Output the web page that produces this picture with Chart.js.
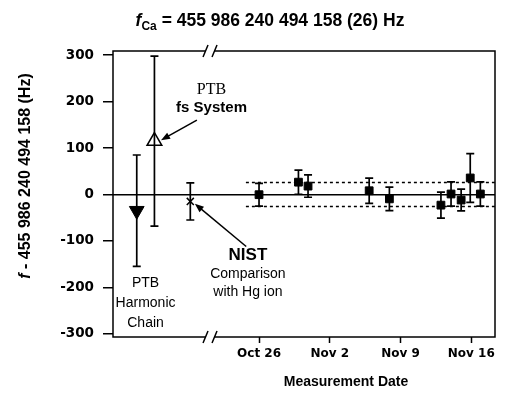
<!DOCTYPE html>
<html>
<head>
<meta charset="utf-8">
<script src="https://cdn.jsdelivr.net/npm/chart.js@4/dist/chart.umd.min.js"></script>
<style>
  html, body { margin: 0; padding: 0; background: #fff; }
</style>
</head>
<body>
<canvas id="myChart" width="505" height="394"></canvas>
<script>
// x ticks: days since Oct 26
const tickDays = [0, 7, 14, 21];
const tickLabels = ["Oct 26", "Nov 2", "Nov 9", "Nov 16"];
const yTicks = [-300, -200, -100, 0, 100, 200, 300];

// NIST comb measurements (Hz offset)
const measDays = [0, 3.9, 4.85, 10.9, 12.9, 18, 19, 20, 20.9, 21.9];
const measVals = [-0.5, 26.5, 18, 8, -9.5, -23, 1, -12, 35.5, 1];
const measErrs = [24.5, 26, 24, 27, 25.5, 28, 26, 23.5, 52.5, 26];

// earlier results, placed left of the axis break
const refNames = ["PTB Harmonic Chain", "PTB fs System", "NIST Hg ion"];
const refPos = [-12.1, -10.35, -6.8];
const refVals = [-35, 115, -15];
const refErrs = [120, 183, 40];

const caUnc = 26;
const bandStart = -1.3;
const xMin = -14.45, xMax = 23.35;
const yMin = -307, yMax = 309;
const breakDay = -4.85;

const SANS = "'Liberation Sans', Arial, sans-serif";

function arrow(ctx, x1, y1, x2, y2) {
  const a = Math.atan2(y2 - y1, x2 - x1);
  const len = 9, w = 3.5;
  ctx.beginPath();
  ctx.moveTo(x1, y1);
  ctx.lineTo(x2 - Math.cos(a) * len * 0.8, y2 - Math.sin(a) * len * 0.8);
  ctx.stroke();
  ctx.beginPath();
  ctx.moveTo(x2, y2);
  ctx.lineTo(x2 - Math.cos(a) * len - Math.sin(a) * w, y2 - Math.sin(a) * len + Math.cos(a) * w);
  ctx.lineTo(x2 - Math.cos(a) * len + Math.sin(a) * w, y2 - Math.sin(a) * len - Math.cos(a) * w);
  ctx.closePath();
  ctx.fill();
}

const decor = {
  id: "decor",
  beforeDatasetsDraw(chart) {
    const ctx = chart.ctx, xs = chart.scales.x, ys = chart.scales.y;
    ctx.save();
    ctx.strokeStyle = "#000";
    ctx.lineWidth = 1.7;
    const bar = (d, v, e) => {
      const px = xs.getPixelForValue(d);
      const t = ys.getPixelForValue(v + e), b = ys.getPixelForValue(v - e);
      ctx.beginPath();
      ctx.moveTo(px, t); ctx.lineTo(px, b);
      ctx.moveTo(px - 4, t); ctx.lineTo(px + 4, t);
      ctx.moveTo(px - 4, b); ctx.lineTo(px + 4, b);
      ctx.stroke();
    };
    measDays.forEach((d, i) => bar(d, measVals[i], measErrs[i]));
    refPos.forEach((d, i) => bar(d, refVals[i], refErrs[i]));
    ctx.restore();
  },
  afterDraw(chart) {
    const ctx = chart.ctx, xs = chart.scales.x, ys = chart.scales.y;
    const a = chart.chartArea;
    const X = v => xs.getPixelForValue(v), Y = v => ys.getPixelForValue(v);
    ctx.save();
    ctx.strokeStyle = "#000";
    ctx.fillStyle = "#000";
    ctx.lineWidth = 1.5;
    ctx.strokeRect(a.left, a.top, a.right - a.left, a.bottom - a.top);

    // axis breaks
    const bx = X(breakDay);
    [a.top, a.bottom].forEach(yy => {
      ctx.fillStyle = "#fff";
      ctx.fillRect(bx - 4, yy - 2, 8, 4);
      ctx.fillStyle = "#000";
      ctx.beginPath();
      [-4.5, 4.5].forEach(o => {
        ctx.moveTo(bx + o - 2.5, yy + 6);
        ctx.lineTo(bx + o + 2.5, yy - 6);
      });
      ctx.stroke();
    });

    // arrows
    arrow(ctx, X(-6.15), Y(160), X(-9.7), Y(117));
    arrow(ctx, X(-1.27), Y(-112), X(-6.35), Y(-20));

    // annotation text
    ctx.textAlign = "center";
    ctx.textBaseline = "middle";
    ctx.font = "16px 'Liberation Serif', 'Times New Roman', serif";
    ctx.fillText("PTB", X(-4.7), Y(225));
    ctx.font = "bold 15px " + SANS;
    ctx.fillText("fs System", X(-4.7), Y(186));
    ctx.font = "bold 17px " + SANS;
    ctx.fillText("NIST", X(-1.1), Y(-130));
    ctx.font = "14px " + SANS;
    ctx.fillText("Comparison", X(-1.1), Y(-171));
    ctx.fillText("with Hg ion", X(-1.1), Y(-210));
    ctx.fillText("PTB", X(-11.23), Y(-191));
    ctx.fillText("Harmonic", X(-11.23), Y(-234));
    ctx.fillText("Chain", X(-11.23), Y(-277));

    // x axis title
    ctx.font = "bold 14px " + SANS;
    ctx.fillText("Measurement Date", 346, 382);

    // main title with subscript
    ctx.textAlign = "left";
    ctx.textBaseline = "alphabetic";
    const parts = [
      ["italic bold 17.5px " + SANS, "f", 0],
      ["bold 12px " + SANS, "Ca", 4],
      ["bold 17.5px " + SANS, " = 455 986 240 494 158 (26) Hz", 0]
    ];
    let w = 0;
    parts.forEach(p => { ctx.font = p[0]; w += ctx.measureText(p[1]).width; });
    let x = 270 - w / 2;
    parts.forEach(p => {
      ctx.font = p[0];
      ctx.fillText(p[1], x, 26 + p[2]);
      x += ctx.measureText(p[1]).width;
    });

    // y axis title, rotated
    ctx.translate(30, 176);
    ctx.rotate(-Math.PI / 2);
    const yparts = [
      ["italic bold 16px " + SANS, "f"],
      ["bold 16px " + SANS, " - 455 986 240 494 158 (Hz)"]
    ];
    w = 0;
    yparts.forEach(p => { ctx.font = p[0]; w += ctx.measureText(p[1]).width; });
    x = -w / 2;
    yparts.forEach(p => {
      ctx.font = p[0];
      ctx.fillText(p[1], x, 0);
      x += ctx.measureText(p[1]).width;
    });
    ctx.restore();
  }
};

const tickFont = { family: "'DejaVu Sans', sans-serif", weight: "bold", size: 13.5 };

new Chart(document.getElementById("myChart"), {
  type: "scatter",
  data: {
    datasets: [
      {
        label: "Measurements",
        data: measDays.map((d, i) => ({ x: d, y: measVals[i] })),
        pointStyle: "rect",
        pointRadius: 5.5,
        pointBackgroundColor: "#000",
        pointBorderColor: "#000",
        pointBorderWidth: 1
      },
      {
        label: refNames[0],
        data: [{ x: refPos[0], y: refVals[0] }],
        pointStyle: "triangle",
        pointRotation: 180,
        pointRadius: 8.5,
        pointBackgroundColor: "#000",
        pointBorderColor: "#000",
        pointBorderWidth: 1
      },
      {
        label: refNames[1],
        data: [{ x: refPos[1], y: refVals[1] }],
        pointStyle: "triangle",
        pointRadius: 8.5,
        pointBackgroundColor: "rgba(0,0,0,0)",
        pointBorderColor: "#000",
        pointBorderWidth: 1.5
      },
      {
        label: refNames[2],
        data: [{ x: refPos[2], y: refVals[2] }],
        pointStyle: "crossRot",
        pointRadius: 5,
        pointBorderColor: "#000",
        pointBorderWidth: 1.5
      },
      {
        label: "+unc",
        data: [{ x: bandStart, y: caUnc }, { x: xMax, y: caUnc }],
        showLine: true,
        borderColor: "#000",
        borderWidth: 1.5,
        borderDash: [3, 3],
        pointRadius: 0
      },
      {
        label: "-unc",
        data: [{ x: bandStart, y: -caUnc }, { x: xMax, y: -caUnc }],
        showLine: true,
        borderColor: "#000",
        borderWidth: 1.5,
        borderDash: [3, 3],
        pointRadius: 0
      }
    ]
  },
  options: {
    responsive: false,
    animation: false,
    devicePixelRatio: 1,
    layout: { padding: { top: 51, right: 5, left: 0, bottom: 0 } },
    plugins: { legend: { display: false }, tooltip: { enabled: false }, title: { display: false } },
    scales: {
      x: {
        type: "linear",
        min: xMin,
        max: xMax,
        afterBuildTicks: s => { s.ticks = tickDays.map(v => ({ value: v })); },
        afterFit: s => { s.height = 57; },
        ticks: {
          callback: (v, i) => tickLabels[i],
          font: { family: "'DejaVu Sans', sans-serif", weight: "bold", size: 12 },
          color: "#000",
          padding: 4,
          maxRotation: 0,
          autoSkip: false
        },
        grid: { drawOnChartArea: false, tickLength: 6, tickColor: "#000", tickWidth: 1.5 },
        border: { display: false }
      },
      y: {
        min: yMin,
        max: yMax,
        afterBuildTicks: s => { s.ticks = yTicks.map(v => ({ value: v })); },
        afterFit: s => { s.width = 113; },
        ticks: { font: tickFont, color: "#000", padding: 9, callback: v => String(v) },
        grid: {
          color: c => (c.tick && c.tick.value === 0 ? "#000" : "rgba(0,0,0,0)"),
          lineWidth: 1.5,
          tickColor: "#000",
          tickWidth: 1.5,
          tickLength: 10
        },
        border: { display: false }
      }
    }
  },
  plugins: [decor]
});
</script>
</body>
</html>
